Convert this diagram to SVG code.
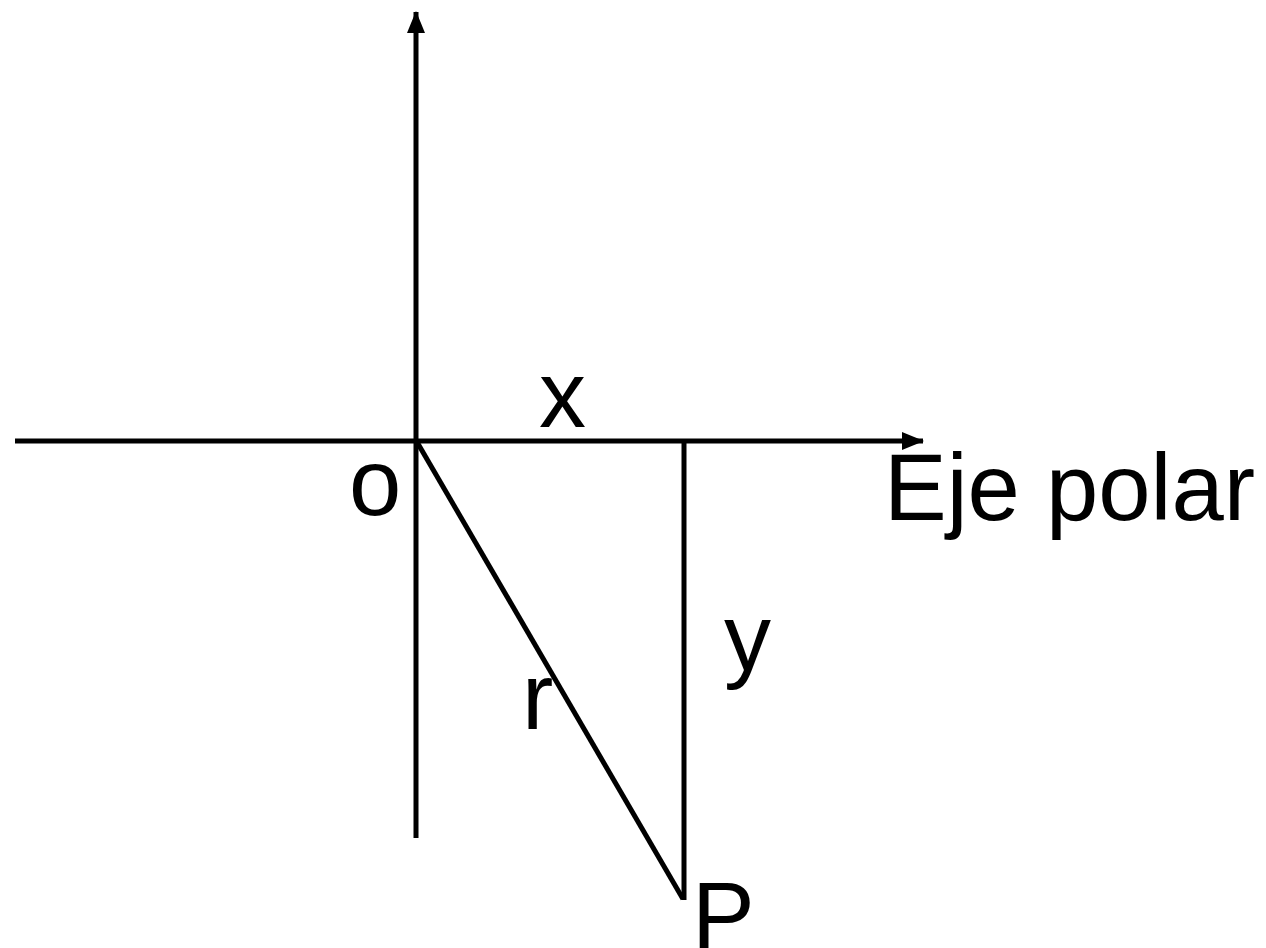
<svg xmlns="http://www.w3.org/2000/svg" width="1266" height="948" viewBox="0 0 1266 948">
<style>
.ln{stroke:#000;stroke-width:5;fill:none}
.t{font-family:"Liberation Sans",Arial,sans-serif;font-size:94px;fill:#000}
</style>
<defs>
<marker id="ah" viewBox="0 0 22 18" refX="21" refY="9" markerWidth="22" markerHeight="18" orient="auto" markerUnits="userSpaceOnUse">
<path d="M0,0 L22,9 L0,18 z" fill="#000"/>
</marker>
</defs>
<rect width="1266" height="948" fill="#fff"/>
<g id="connectors">
<line class="ln" x1="416" y1="838" x2="416" y2="12" marker-end="url(#ah)"/>
<line class="ln" x1="15" y1="441" x2="923" y2="441" marker-end="url(#ah)"/>
<line class="ln" x1="684" y1="441" x2="684" y2="900"/>
<line class="ln" x1="417" y1="442" x2="683" y2="899"/>
</g>
<g id="labels">
<text class="t" x="539" y="427">x</text>
<text class="t" x="349" y="515">o</text>
<text class="t" x="884" y="520">Eje polar</text>
<text class="t" x="724" y="670">y</text>
<text class="t" x="522" y="729">r</text>
<text class="t" x="692" y="948">P</text>
</g>
</svg>
